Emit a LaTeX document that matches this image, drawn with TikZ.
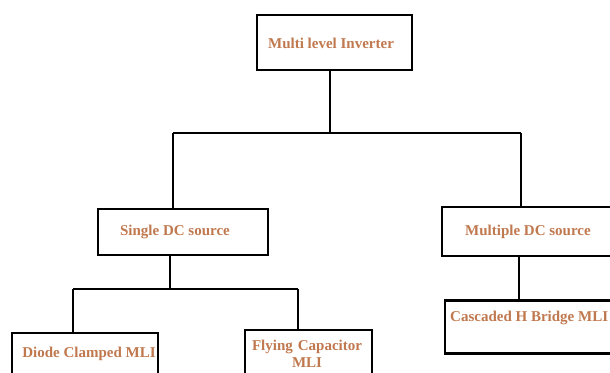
\documentclass[tikz,border=0pt]{standalone}
\usepackage{fontspec}
\setmainfont{Liberation Serif}
\definecolor{txt}{RGB}{192,120,78}
\begin{document}
\begin{tikzpicture}[x=1pt,y=-1pt,
  box/.style={draw=black,line width=2.6pt,rectangle,inner sep=0pt},
  lbl/.style={text=txt,font=\bfseries\fontsize{15}{17}\selectfont,inner sep=0pt,align=center},
  conn/.style={draw=black,line width=2.2pt}]
\useasboundingbox (0,0) rectangle (610,372);
\clip (0,0) rectangle (610,372);
% boxes
\node[box,minimum width=155pt,minimum height=55pt] (top) at (334.5,42.5) {};
\node[box,minimum width=170pt,minimum height=46pt] (single) at (183,232) {};
\node[box,minimum width=190pt,minimum height=49pt] (multi) at (537,231.5) {};
\node[box,minimum width=146pt,minimum height=70pt] (diode) at (85,368) {};
\node[box,minimum width=127pt,minimum height=70pt] (fly) at (308.5,365) {};
\node[box,minimum width=190pt,minimum height=53pt] (casc) at (540,327) {};
% texts
\node[lbl] (ttop) at (331,43) {Multi level Inverter};
\node[lbl] (tsingle) at (175,232) {Single DC source};
\node[lbl] (tmulti) at (528,232) {Multiple DC source};
\node[lbl] (tdiode) at (89,354) {Diode Clamped MLI};
\node[lbl,text width=130pt] (tfly) at (307,353.5) {Flying Capacitor\\MLI};
\node[lbl,anchor=west] (tcasc) at (450,318) {Cascaded H Bridge MLI};
% connectors
\coordinate (b1) at (330,133);
\coordinate (b1l) at (173,133);
\coordinate (b1r) at (521,133);
\coordinate (b2) at (170,289);
\coordinate (b2l) at (73,289);
\coordinate (b2r) at (298,289);
\draw[conn] (top.south -| b1) -- (b1);
\draw[conn] (b1l) -- (b1r);
\draw[conn] (b1l) -- (single.north -| b1l);
\draw[conn] (b1r) -- (multi.north -| b1r);
\draw[conn] (single.south -| b2) -- (b2);
\draw[conn] (b2l) -- (b2r);
\draw[conn] (b2l) -- (diode.north -| b2l);
\draw[conn] (b2r) -- (fly.north -| b2r);
\draw[conn] (multi.south -| 519,0) -- (casc.north -| 519,0);
\end{tikzpicture}
\end{document}
